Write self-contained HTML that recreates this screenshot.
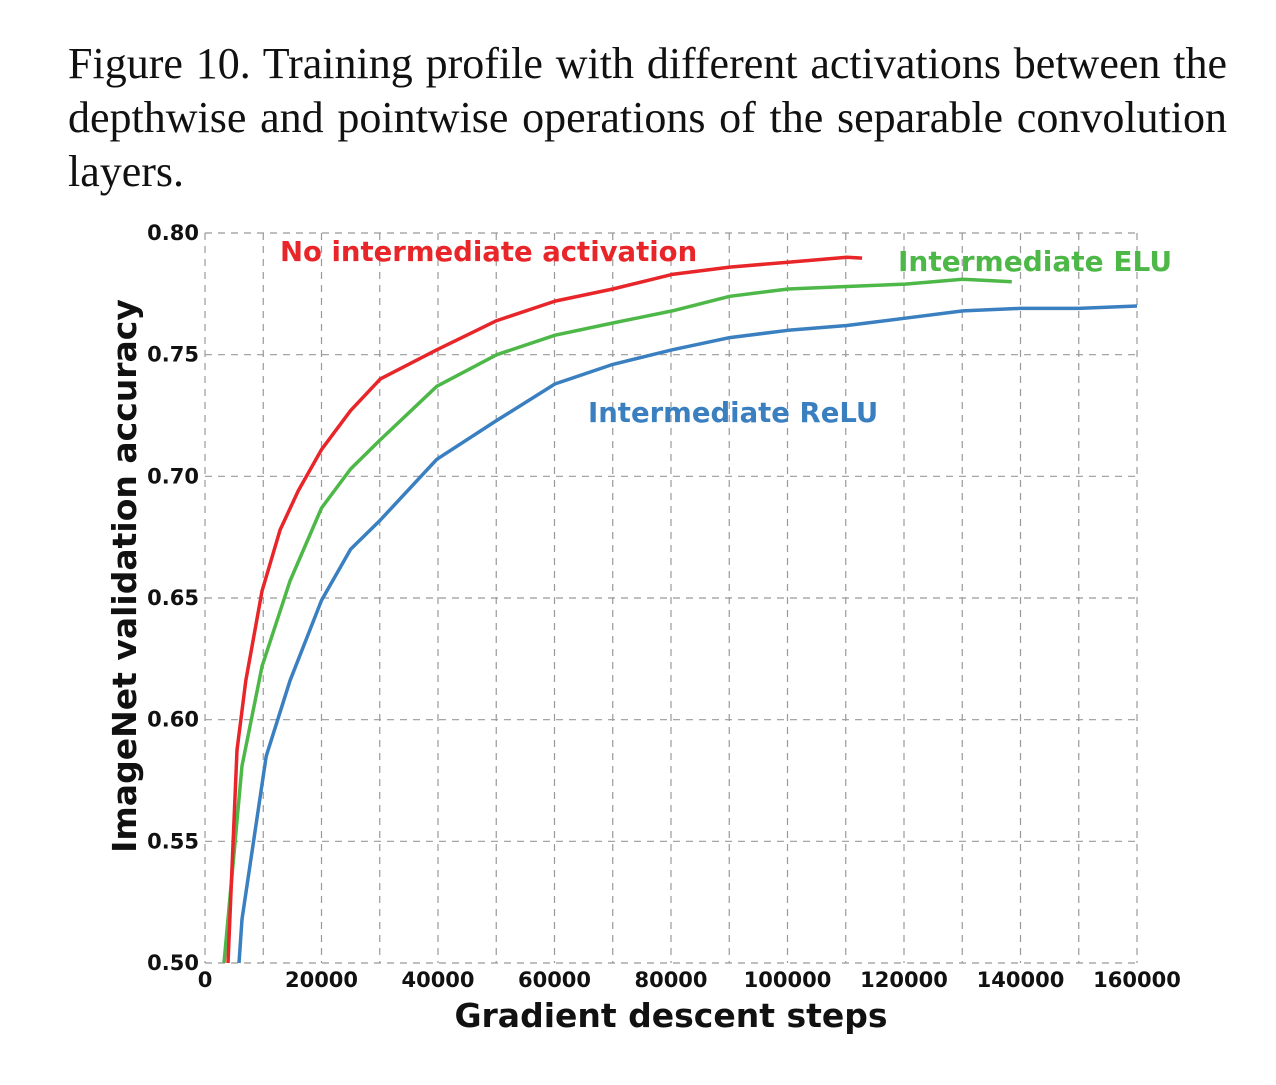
<!DOCTYPE html>
<html><head><meta charset="utf-8"><style>
body{margin:0;background:#fff;width:1276px;height:1085px;overflow:hidden;position:relative}
#cap{position:absolute;left:68px;top:37px;width:1159px;text-align:justify;font-family:"Liberation Serif",serif;font-size:44px;line-height:54px;color:#111}
svg{position:absolute;left:0;top:0}
</style></head><body>
<div id="cap">Figure 10. Training profile with different activations between the depthwise and pointwise operations of the separable convolution layers.</div>
<svg id="chart" width="1276" height="1085"></svg>
<script>
const xTicks=[0,20000,40000,60000,80000,100000,120000,140000,160000];
const yTicks=[0.50,0.55,0.60,0.65,0.70,0.75,0.80];
const redX=[3950,5500,7000,9800,12900,16000,20000,25000,30100,39800,50100,60100,70000,80200,90100,100100,110200,112800];
const redY=[0.5,0.5875,0.616,0.653,0.678,0.694,0.711,0.727,0.740,0.752,0.764,0.772,0.777,0.783,0.786,0.788,0.790,0.7897];
const greenX=[3260,6350,9800,14600,20000,25000,30100,39800,50100,60100,70000,80200,90100,100100,110200,120200,130100,138500];
const greenY=[0.5,0.581,0.622,0.657,0.687,0.703,0.715,0.737,0.750,0.758,0.763,0.768,0.774,0.777,0.778,0.779,0.781,0.780];
const blueX=[5840,6350,10500,14600,20000,25000,30100,39800,50100,60100,70000,80200,90100,100100,110200,120200,130100,139900,150000,160000];
const blueY=[0.5,0.518,0.585,0.616,0.649,0.670,0.682,0.707,0.723,0.738,0.746,0.752,0.757,0.760,0.762,0.765,0.768,0.769,0.769,0.770];
const X=v=>205+v/160000*932, Y=v=>963-(v-0.5)/0.3*730;
const svg=document.getElementById('chart'),NS='http://www.w3.org/2000/svg';
function mk(t,a,txt){const e=document.createElementNS(NS,t);for(const k in a)e.setAttribute(k,a[k]);if(txt!=null)e.textContent=txt;svg.appendChild(e);return e;}
const F='"DejaVu Sans","Liberation Sans",sans-serif';
for(let g=0;g<=160000;g+=10000){
 const l=mk('line',{x1:X(g),x2:X(g),y1:233,y2:963,stroke:'#999','stroke-width':1.2,'stroke-dasharray':'7,6'});
 
 
}
yTicks.forEach(v=>{
 const l=mk('line',{x1:205,x2:1137,y1:Y(v),y2:Y(v),stroke:'#999','stroke-width':1.2,'stroke-dasharray':'7,6'});
 
 
 const t=mk('text',{x:199,y:Y(v)+7,'text-anchor':'end','font-family':F,'font-weight':'bold','font-size':21,fill:'#111'},v.toFixed(2));
 
 
});
xTicks.forEach(v=>{
 const t=mk('text',{x:X(v),y:987,'text-anchor':'middle','font-family':F,'font-weight':'bold','font-size':21,fill:'#111'},String(v));
 
 
});
function series(xs,ys,c,name){
 const d=xs.map((x,i)=>(i?'L':'M')+X(x).toFixed(1)+','+Y(ys[i]).toFixed(1)).join('');
 const p=mk('path',{d:d,fill:'none',stroke:c,'stroke-width':3.5,'stroke-linejoin':'round'});
 
 
}
series(blueX,blueY,'#3a7fc0','relu-line');
series(greenX,greenY,'#4db848','elu-line');
series(redX,redY,'#e8262a','no-activation-line');
let t;
t=mk('text',{x:280,y:261,'font-family':F,'font-weight':'bold','font-size':27.5,fill:'#e8262a'},'No intermediate activation');

t=mk('text',{x:898,y:271,'font-family':F,'font-weight':'bold','font-size':28,fill:'#4db848'},'Intermediate ELU');

t=mk('text',{x:588,y:422,'font-family':F,'font-weight':'bold','font-size':27.5,fill:'#3a7fc0'},'Intermediate ReLU');

t=mk('text',{x:671,y:1027,'text-anchor':'middle','font-family':F,'font-weight':'bold','font-size':33,fill:'#111'},'Gradient descent steps');

t=mk('text',{x:0,y:0,'text-anchor':'middle','font-family':F,'font-weight':'bold','font-size':33,fill:'#111',transform:'translate(136,576) rotate(-90)'},'ImageNet validation accuracy');

</script>
</body></html>
